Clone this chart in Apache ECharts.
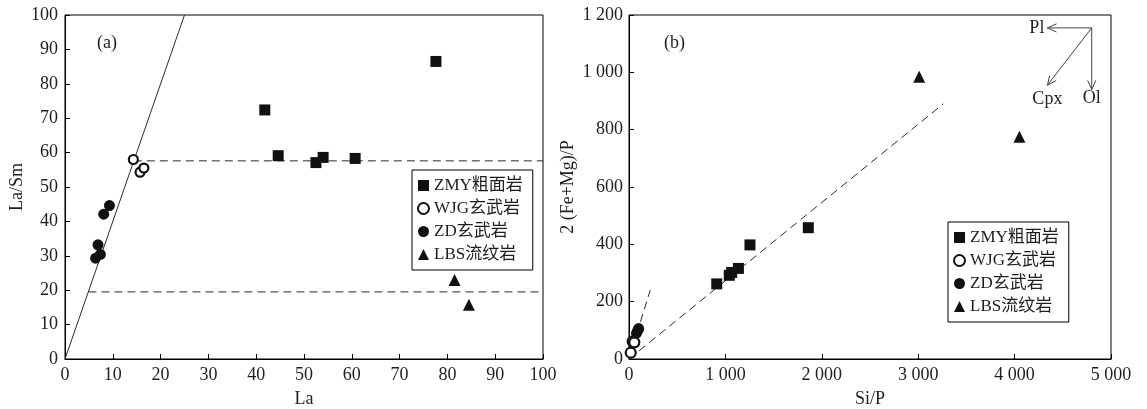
<!DOCTYPE html>
<html>
<head>
<meta charset="utf-8">
<script src="https://cdn.jsdelivr.net/npm/echarts@6/dist/echarts.min.js"></script>
<style>html,body{margin:0;padding:0;background:#fff}#c{width:1147px;height:409px}</style>
</head>
<body>
<div id="c"></div>
<script>
// ---------- data ----------
const seriesNames = ['ZMY粗面岩', 'WJG玄武岩', 'ZD玄武岩', 'LBS流纹岩'];

// panel (a): La vs La/Sm
const zmyA = [[41.8, 72.4], [44.6, 59.1], [52.5, 57.1], [54.0, 58.6], [60.7, 58.3], [77.6, 86.5]];
const wjgA = [[14.3, 58.0], [15.7, 54.3], [16.5, 55.5]];
const zdA  = [[9.3, 44.6], [8.1, 42.1], [6.9, 33.2], [7.4, 30.4], [6.4, 29.3]];
const lbsA = [[81.5, 23.0], [84.5, 15.8]];
const solidLineA = [[0, 0], [25, 100]];
const dashHighA = [[14.4, 57.6], [100, 57.6]];
const dashLowA  = [[4.9, 19.5], [100, 19.5]];

// panel (b): Si/P vs 2(Fe+Mg)/P
const zmyB = [[910, 262], [1040, 292], [1065, 302], [1135, 316], [1255, 398], [1860, 458]];
const wjgB = [[18, 22], [38, 62], [55, 58]];
const zdB  = [[78, 90], [92, 100], [100, 106]];
const lbsB = [[3010, 985], [4050, 775]];
const dashLongB  = [[0, 0], [3260, 890]];
const dashSteepB = [[0, 0], [220, 240]];
// mineral vectors: [x0, y0, x1, y1, label]
const vectorsB = [[4800, 1155, 4340, 1155, 'Pl'], [4800, 1155, 4340, 955, 'Cpx'], [4800, 1155, 4800, 940, 'Ol']];

// axis ticks
const xTicksA = {min: 0, max: 100, interval: 10};
const yTicksA = {min: 0, max: 100, interval: 10};
const xTicksB = {min: 0, max: 5000, interval: 1000};
const yTicksB = {min: 0, max: 1200, interval: 200};

// ---------- chart ----------
const FF = "'Liberation Serif', 'Noto Sans CJK SC', serif";
const TXT = '#1e1e1e';
const chart = echarts.init(document.getElementById('c'), null, {renderer: 'canvas'});

function thousands(v) {
  return String(v).replace(/(\d)(?=(\d{3})+$)/g, '$1 ');
}

function axis(gridIndex, t, extra) {
  return Object.assign({
    type: 'value', gridIndex: gridIndex, min: t.min, max: t.max, interval: t.interval,
    splitLine: {show: false},
    axisLine: {show: true, onZero: false, lineStyle: {color: '#000', width: 1}},
    axisTick: {show: true, inside: true, length: 5, lineStyle: {color: '#000'}},
    axisLabel: {fontFamily: FF, fontSize: 18, color: TXT, margin: 7},
    nameLocation: 'middle',
    nameTextStyle: {fontFamily: FF, fontSize: 18, color: TXT}
  }, extra);
}

const markerColor = '#111';
function scatter(name, data, xi, symbol, size, style) {
  return {
    type: 'scatter', name: name, xAxisIndex: xi, yAxisIndex: xi, data: data,
    symbol: symbol, symbolSize: size, z: 5,
    itemStyle: style || {color: markerColor, opacity: 1}
  };
}
function refLine(data, xi, dashed) {
  return {
    type: 'line', data: data, xAxisIndex: xi, yAxisIndex: xi, symbol: 'none', silent: true, z: 2,
    lineStyle: {color: '#2a2a2a', width: 1, type: dashed ? [8, 5] : 'solid'}
  };
}
const openStyle = {color: '#fff', borderColor: markerColor, borderWidth: 2.2, opacity: 1};

const legendBase = {
  orient: 'vertical', borderColor: '#000', borderWidth: 1,
  padding: [7, 10, 7, 5], itemGap: 6, itemWidth: 11, itemHeight: 11,
  textStyle: {fontFamily: FF, fontSize: 17, lineHeight: 17, color: TXT},
  data: seriesNames
};

const labelOffsets = {
  Pl:  {dx: -3, dy: 0, align: 'right', va: 'middle'},
  Cpx: {dx: 0, dy: 5, align: 'center', va: 'top'},
  Ol:  {dx: 0, dy: 0, align: 'center', va: 'top'}
};

const gridBase = {top: 15, height: 344, show: true, borderColor: '#000', borderWidth: 1,
  backgroundColor: 'transparent', containLabel: false, outerBoundsMode: 'none'};

const option = {
  backgroundColor: '#fff',
  animation: false,
  grid: [
    Object.assign({left: 65, width: 478}, gridBase),
    Object.assign({left: 629, width: 482}, gridBase)
  ],
  xAxis: [
    axis(0, xTicksA, {name: 'La', nameGap: 31}),
    axis(1, xTicksB, {name: 'Si/P', nameGap: 31, axisLabel: {fontFamily: FF, fontSize: 18, color: TXT, margin: 7, formatter: thousands}})
  ],
  yAxis: [
    axis(0, yTicksA, {name: 'La/Sm', nameGap: 39}),
    axis(1, yTicksB, {name: '2 (Fe+Mg)/P', nameGap: 52, axisLabel: {fontFamily: FF, fontSize: 18, color: TXT, margin: 6, formatter: thousands}})
  ],
  legend: [
    Object.assign({left: 412, top: 170}, legendBase),
    Object.assign({left: 948, top: 222}, legendBase)
  ],
  graphic: [
    {type: 'text', left: 97, top: 34, style: {text: '(a)', font: '18px ' + FF, fill: TXT}},
    {type: 'text', left: 664, top: 34, style: {text: '(b)', font: '18px ' + FF, fill: TXT}}
  ],
  series: [
    refLine(solidLineA, 0, false),
    refLine(dashHighA, 0, true),
    refLine(dashLowA, 0, true),
    scatter(seriesNames[0], zmyA, 0, 'rect', 11),
    scatter(seriesNames[1], wjgA, 0, 'circle', 9, openStyle),
    scatter(seriesNames[2], zdA, 0, 'circle', 11),
    scatter(seriesNames[3], lbsA, 0, 'triangle', 12),

    refLine(dashLongB, 1, true),
    refLine(dashSteepB, 1, true),
    scatter(seriesNames[0], zmyB, 1, 'rect', 11),
    scatter(seriesNames[1], wjgB, 1, 'circle', 10, openStyle),
    scatter(seriesNames[2], zdB, 1, 'circle', 11),
    scatter(seriesNames[3], lbsB, 1, 'triangle', 12),
    {
      type: 'custom', xAxisIndex: 1, yAxisIndex: 1, data: vectorsB, silent: true, z: 3,
      renderItem: function (params, api) {
        const s = api.coord([api.value(0), api.value(1)]);
        const e = api.coord([api.value(2), api.value(3)]);
        const lab = vectorsB[params.dataIndex][4];
        const ang = Math.atan2(e[1] - s[1], e[0] - s[0]);
        const L = 10, a = 0.42;
        const p1 = [e[0] - L * Math.cos(ang - a), e[1] - L * Math.sin(ang - a)];
        const p2 = [e[0] - L * Math.cos(ang + a), e[1] - L * Math.sin(ang + a)];
        const o = labelOffsets[lab];
        return {
          type: 'group',
          children: [
            {type: 'line', shape: {x1: s[0], y1: s[1], x2: e[0], y2: e[1]}, style: {stroke: '#444', lineWidth: 1}},
            {type: 'polyline', shape: {points: [p1, e, p2]}, style: {stroke: '#444', fill: null, lineWidth: 1}},
            {type: 'text', x: e[0] + o.dx, y: e[1] + o.dy,
             style: {text: lab, font: '18px ' + FF, fill: TXT, align: o.align, verticalAlign: o.va}}
          ]
        };
      }
    }
  ]
};
chart.setOption(option);
</script>
</body>
</html>
